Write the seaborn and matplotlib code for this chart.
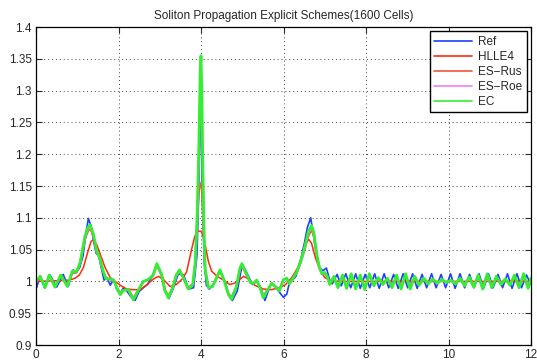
import numpy as np
import pandas as pd
import matplotlib
matplotlib.use("Agg")
import matplotlib.pyplot as plt
import seaborn as sns

title = "Soliton Propagation Explicit Schemes(1600 Cells)"
x_ticks = [0, 2, 4, 6, 8, 10, 12]
x_tick_labels = ["0", "2", "4", "6", "8", "10", "12"]
y_ticks = [0.9, 0.95, 1.0, 1.05, 1.1, 1.15, 1.2, 1.25, 1.3, 1.35, 1.4]
y_tick_labels = ["0.9", "0.95", "1", "1.05", "1.1", "1.15", "1.2", "1.25", "1.3", "1.35", "1.4"]

# Ref (blue)
ref_x = [0.00, 0.02, 0.10, 0.21, 0.34, 0.50, 0.66, 0.78, 0.90, 0.98, 1.06, 1.14, 1.21, 1.27, 1.33, 1.40,
         1.46, 1.52, 1.58, 1.65, 1.72, 1.80, 1.88, 1.96, 2.04, 2.12, 2.20, 2.30, 2.40, 2.50, 2.60, 2.70,
         2.80, 2.93, 3.05, 3.14, 3.22, 3.32, 3.45, 3.58, 3.70, 3.82, 3.90, 3.95, 3.98, 4.01, 4.04, 4.08,
         4.13, 4.20, 4.30, 4.46, 4.58, 4.68, 4.76, 4.88, 5.00, 5.12, 5.25, 5.35, 5.45, 5.55, 5.63, 5.71,
         5.80, 5.90, 6.00, 6.08, 6.15, 6.22, 6.30, 6.40, 6.50, 6.58, 6.66, 6.72, 6.80, 6.88, 6.96, 7.04,
         7.12, 7.18, 7.30, 7.40, 7.51, 7.63, 7.75, 7.86, 7.98, 8.09, 8.21, 8.32, 8.44, 8.55, 8.67, 8.78,
         8.90, 9.01, 9.13, 9.24, 9.36, 9.47, 9.59, 9.70, 9.82, 9.93, 10.05, 10.16, 10.28, 10.39, 10.51,
         10.62, 10.74, 10.85, 10.97, 11.08, 11.20, 11.31, 11.43, 11.54, 11.66, 11.77, 11.89, 12.00]
ref_y = [0.990, 0.991, 1.009, 0.990, 1.010, 0.991, 1.011, 0.992, 1.018, 1.014, 1.022, 1.040, 1.075, 1.099,
         1.088, 1.062, 1.044, 1.040, 1.022, 1.002, 1.006, 0.994, 1.003, 0.987, 0.981, 0.990, 0.985, 0.976,
         0.970, 0.984, 0.990, 0.995, 1.006, 1.026, 1.010, 0.985, 0.973, 0.988, 1.012, 1.010, 0.988, 0.990,
         1.040, 1.150, 1.275, 1.230, 1.110, 1.030, 0.994, 0.988, 0.995, 1.017, 1.000, 0.978, 0.970, 0.985,
         1.027, 1.012, 0.995, 1.000, 0.990, 0.970, 0.985, 0.997, 0.992, 0.983, 0.975, 0.980, 1.000, 1.002,
         1.008, 1.030, 1.058, 1.085, 1.100, 1.075, 1.040, 1.021, 1.017, 1.021, 1.002, 0.996, 1.011, 0.993,
         1.012, 0.990, 1.012, 0.989, 1.011, 0.990, 1.012, 0.989, 1.012, 0.990, 1.011, 0.989, 1.012, 0.990,
         1.012, 0.989, 1.011, 0.990, 1.012, 0.990, 1.011, 0.990, 1.012, 0.989, 1.012, 0.990, 1.011, 0.990,
         1.012, 0.989, 1.012, 0.990, 1.011, 0.990, 1.012, 0.989, 1.012, 0.990, 1.010, 0.995]

# HLLE4 (red, smooth)
hlle_x = [0.00, 0.50, 0.80, 0.95, 1.05, 1.15, 1.25, 1.33, 1.39, 1.47, 1.55, 1.68, 1.80, 1.88, 2.04, 2.20,
          2.35, 2.53, 2.69, 2.85, 2.97, 3.09, 3.25, 3.40, 3.55, 3.65, 3.72, 3.77, 3.85, 3.92, 4.00, 4.07,
          4.10, 4.18, 4.26, 4.39, 4.55, 4.70, 4.85, 5.03, 5.15, 5.30, 5.51, 5.70, 5.91, 6.05, 6.20, 6.35,
          6.45, 6.53, 6.61, 6.68, 6.76, 6.88, 7.00, 7.15, 7.40, 8.00, 9.00, 10.00, 11.00, 12.00]
hlle_y = [1.000, 1.001, 1.002, 1.005, 1.010, 1.022, 1.045, 1.062, 1.066, 1.058, 1.044, 1.021, 1.006, 1.002,
          0.994, 0.988, 0.987, 0.987, 0.995, 1.004, 1.008, 1.003, 0.992, 0.995, 1.004, 1.015, 1.035, 1.050,
          1.071, 1.079, 1.079, 1.068, 1.058, 1.031, 1.016, 1.008, 1.002, 0.995, 0.998, 1.008, 1.004, 0.994,
          0.988, 0.987, 0.990, 0.995, 1.006, 1.022, 1.040, 1.058, 1.066, 1.060, 1.040, 1.018, 1.006, 1.001,
          1.000, 1.000, 1.000, 1.000, 1.000, 1.000]

# EC (green)
ec_x = [0.00, 0.10, 0.22, 0.32, 0.46, 0.60, 0.76, 0.88, 0.98, 1.07, 1.19, 1.26, 1.31, 1.39, 1.47, 1.55,
        1.63, 1.70, 1.80, 1.88, 1.96, 2.04, 2.12, 2.24, 2.36, 2.48, 2.60, 2.72, 2.84, 2.93, 3.05, 3.12,
        3.21, 3.30, 3.40, 3.48, 3.58, 3.69, 3.80, 3.86, 3.91, 3.95, 3.98, 4.00, 4.02, 4.04, 4.07, 4.10,
        4.18, 4.28, 4.37, 4.46, 4.56, 4.66, 4.74, 4.86, 4.94, 4.99, 5.10, 5.20, 5.27, 5.35, 5.43, 5.51,
        5.60, 5.71, 5.80, 5.90, 6.00, 6.08, 6.14, 6.22, 6.32, 6.42, 6.52, 6.60, 6.68, 6.74, 6.80, 6.86,
        6.93, 7.00, 7.06, 7.12, 7.22, 7.32, 7.43, 7.53, 7.64, 7.75, 7.86, 7.97, 8.08, 8.19, 8.30, 8.41,
        8.52, 8.63, 8.74, 8.85, 8.96, 9.07, 9.18, 9.29, 9.40, 9.51, 9.62, 9.73, 9.84, 9.95, 10.06, 10.17,
        10.28, 10.39, 10.50, 10.61, 10.72, 10.83, 10.94, 11.05, 11.16, 11.27, 11.38, 11.49, 11.60, 11.71,
        11.82, 11.93, 12.00]
ec_y = [1.000, 1.008, 0.990, 1.010, 0.991, 1.010, 0.992, 1.016, 1.015, 1.030, 1.072, 1.085, 1.089, 1.075,
        1.048, 1.036, 1.016, 1.004, 1.004, 1.002, 0.990, 0.979, 0.986, 0.987, 0.971, 0.986, 1.000, 1.003,
        1.010, 1.028, 1.010, 0.986, 0.974, 0.988, 1.010, 1.018, 1.005, 0.988, 0.995, 1.030, 1.110, 1.220,
        1.330, 1.355, 1.300, 1.200, 1.090, 1.020, 0.990, 0.992, 1.005, 1.018, 1.002, 0.980, 0.972, 0.992,
        1.020, 1.028, 1.012, 0.998, 0.997, 1.002, 0.990, 0.974, 0.985, 0.997, 0.992, 0.985, 1.003, 1.005,
        0.996, 1.004, 1.015, 1.032, 1.055, 1.078, 1.088, 1.075, 1.045, 1.025, 1.012, 1.014, 1.008, 0.995,
        1.008, 0.990, 1.010, 0.989, 1.012, 0.988, 1.010, 0.987, 1.012, 0.993, 1.006, 0.995, 1.005, 0.990,
        1.010, 0.988, 1.012, 0.988, 1.008, 0.994, 1.005, 0.996, 1.004, 0.997, 1.003, 0.998, 1.002, 0.996,
        1.005, 0.993, 1.007, 0.991, 1.010, 0.988, 1.012, 0.990, 1.008, 0.995, 1.004, 0.994, 1.010, 0.990,
        1.012, 0.989, 1.005]

# ES-Roe (violet, mostly under EC)
roe_y = [1.000, 1.007, 0.991, 1.009, 0.992, 1.009, 0.993, 1.015, 1.014, 1.029, 1.070, 1.083, 1.087, 1.074,
         1.047, 1.035, 1.015, 1.004, 1.003, 1.001, 0.990, 0.980, 0.986, 0.987, 0.972, 0.986, 0.999, 1.003,
         1.009, 1.027, 1.009, 0.986, 0.975, 0.988, 1.009, 1.017, 1.004, 0.988, 0.995, 1.028, 1.100, 1.200,
         1.290, 1.300, 1.270, 1.180, 1.080, 1.018, 0.990, 0.992, 1.005, 1.017, 1.002, 0.980, 0.973, 0.992,
         1.019, 1.027, 1.011, 0.998, 0.997, 1.001, 0.990, 0.975, 0.985, 0.996, 0.992, 0.986, 1.003, 1.004,
         0.996, 1.004, 1.014, 1.031, 1.053, 1.076, 1.086, 1.073, 1.044, 1.024, 1.012, 1.013, 1.007, 0.996,
         1.007, 0.991, 1.009, 0.990, 1.010, 0.990, 1.009, 0.989, 1.010, 0.994, 1.005, 0.996, 1.004, 0.992,
         1.008, 0.990, 1.010, 0.990, 1.007, 0.995, 1.004, 0.997, 1.003, 0.998, 1.002, 0.999, 1.001, 0.997,
         1.004, 0.994, 1.006, 0.992, 1.008, 0.990, 1.010, 0.991, 1.007, 0.996, 1.003, 0.995, 1.008, 0.992,
         1.010, 0.991, 1.004]

# ES-Rus (light red, mostly under EC)
rus_y = [1.000, 1.006, 0.992, 1.008, 0.993, 1.008, 0.994, 1.013, 1.013, 1.027, 1.066, 1.078, 1.082, 1.072,
         1.048, 1.035, 1.016, 1.004, 1.003, 1.001, 0.991, 0.982, 0.987, 0.988, 0.975, 0.987, 0.999, 1.003,
         1.008, 1.024, 1.008, 0.988, 0.978, 0.989, 1.008, 1.015, 1.004, 0.990, 0.997, 1.030, 1.090, 1.140,
         1.155, 1.150, 1.140, 1.110, 1.060, 1.015, 0.991, 0.993, 1.004, 1.015, 1.002, 0.982, 0.976, 0.993,
         1.017, 1.024, 1.010, 0.998, 0.997, 1.001, 0.991, 0.978, 0.986, 0.996, 0.993, 0.987, 1.003, 1.004,
         0.996, 1.004, 1.013, 1.029, 1.050, 1.070, 1.080, 1.070, 1.044, 1.024, 1.012, 1.012, 1.006, 0.997,
         1.005, 0.994, 1.006, 0.994, 1.007, 0.994, 1.006, 0.994, 1.007, 0.996, 1.003, 0.997, 1.003, 0.995,
         1.005, 0.994, 1.006, 0.994, 1.005, 0.997, 1.002, 0.998, 1.002, 0.999, 1.001, 0.999, 1.001, 0.998,
         1.003, 0.996, 1.004, 0.995, 1.005, 0.994, 1.006, 0.994, 1.005, 0.997, 1.002, 0.997, 1.005, 0.995,
         1.006, 0.994, 1.003]

series = [
    ("Ref", ref_x, ref_y, "#1f3fff", 1.2),
    ("HLLE4", hlle_x, hlle_y, "#ff2a0a", 1.1),
    ("ES\u2212Rus", ec_x, rus_y, "#f2553a", 1.1),
    ("ES\u2212Roe", ec_x, roe_y, "#f27ff2", 1.5),
    ("EC", ec_x, ec_y, "#33ee33", 2.0),
]

sns.set_style("ticks")
plt.rcParams["font.family"] = ["Liberation Sans", "DejaVu Sans"]

fig = plt.figure(figsize=(5.37, 3.61), dpi=100)
ax = fig.add_axes([36 / 537, 16 / 361, 495 / 537, 318 / 361])

for name, xs, ys, col, lw in series:
    df = pd.DataFrame({"x": xs, "y": ys})
    sns.lineplot(data=df, x="x", y="y", ax=ax, color=col, linewidth=lw,
                 label=name, estimator=None, sort=False)

ax.set_xlim(0, 12)
ax.set_ylim(0.9, 1.4)
ax.set_xticks(x_ticks)
ax.set_xticklabels(x_tick_labels)
ax.set_yticks(y_ticks)
ax.set_yticklabels(y_tick_labels)
ax.set_xlabel("")
ax.set_ylabel("")
ax.grid(True, linestyle=(0, (1, 3)), color="#444444", linewidth=0.7)
ax.tick_params(direction="in", top=True, right=True, labelsize=8.5, length=4, width=0.8, pad=3)
for sp in ax.spines.values():
    sp.set_color("black")
    sp.set_linewidth(0.9)
ax.set_title(title, fontsize=8.5, pad=6)

leg = ax.legend(loc="upper right", fontsize=8.5, frameon=True, fancybox=False,
                borderpad=0.4, handlelength=3.2, labelspacing=0.25, borderaxespad=0.35,
                handletextpad=0.5)
leg.get_frame().set_edgecolor("black")
leg.get_frame().set_linewidth(1.0)
leg.get_frame().set_alpha(1.0)
for h in leg.get_lines():
    h.set_linewidth(1.2)

fig.savefig("out.png", dpi=100)
